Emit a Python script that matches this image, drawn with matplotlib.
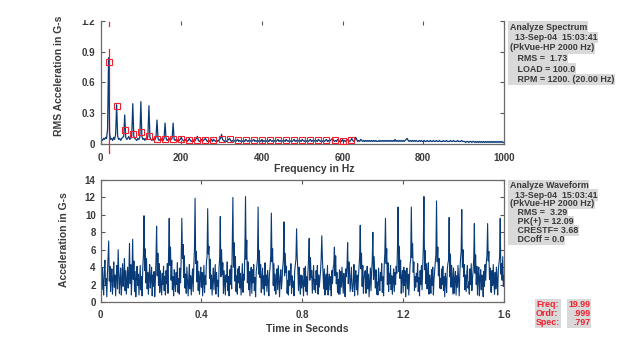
import matplotlib
matplotlib.use("Agg")
import matplotlib.pyplot as plt
import numpy as np
from matplotlib.patches import Rectangle

plt.rcParams["font.family"] = ["Liberation Sans Narrow", "Liberation Sans", "DejaVu Sans"]
plt.rcParams["font.weight"] = "bold"

BLUE = "#083b78"
RED = "#f0202e"
GREY = "#d9d9d9"
TXT = "#3a3a3a"

# spectrum, 2.5 Hz bins from 0 to 1000 Hz (RMS G-s)
spec_step_hz = 2.5
spectrum = [
    0.05, 0.04, 0.03, 0.05, 0.04, 0.06, 0.05, 0.14, 0.84, 0.10, 0.04, 0.05, 0.03, 0.06, 0.04, 0.09, 0.38, 0.07, 0.04, 0.05,
    0.03, 0.05, 0.06, 0.07, 0.28, 0.06, 0.04, 0.05, 0.07, 0.04, 0.05, 0.08, 0.39, 0.07, 0.05, 0.04, 0.03, 0.05, 0.04, 0.06,
    0.41, 0.07, 0.04, 0.05, 0.03, 0.05, 0.04, 0.07, 0.37, 0.06, 0.04, 0.03, 0.05, 0.03, 0.04, 0.06, 0.23, 0.05, 0.03, 0.04,
    0.03, 0.05, 0.03, 0.05, 0.20, 0.05, 0.03, 0.04, 0.05, 0.03, 0.04, 0.05, 0.20, 0.04, 0.03, 0.04, 0.02, 0.04, 0.03, 0.04,
    0.06, 0.04, 0.03, 0.02, 0.04, 0.03, 0.02, 0.03, 0.05, 0.03, 0.02, 0.03, 0.02, 0.04, 0.03, 0.05, 0.07, 0.03, 0.02, 0.03,
    0.04, 0.02, 0.03, 0.04, 0.05, 0.03, 0.02, 0.03, 0.02, 0.03, 0.04, 0.02, 0.04, 0.03, 0.02, 0.03, 0.02, 0.03, 0.04, 0.05,
    0.09, 0.04, 0.03, 0.02, 0.03, 0.02, 0.03, 0.04, 0.05, 0.03, 0.02, 0.03, 0.02, 0.03, 0.02, 0.03, 0.04, 0.02, 0.03, 0.02,
    0.03, 0.02, 0.03, 0.02, 0.04, 0.03, 0.02, 0.03, 0.02, 0.03, 0.02, 0.03, 0.04, 0.02, 0.03, 0.02, 0.03, 0.02, 0.03, 0.02,
    0.04, 0.02, 0.03, 0.02, 0.03, 0.02, 0.03, 0.02, 0.04, 0.03, 0.02, 0.03, 0.02, 0.03, 0.02, 0.03, 0.04, 0.02, 0.03, 0.02,
    0.03, 0.02, 0.03, 0.02, 0.04, 0.03, 0.02, 0.03, 0.02, 0.03, 0.02, 0.03, 0.04, 0.02, 0.03, 0.02, 0.03, 0.02, 0.03, 0.02,
    0.04, 0.03, 0.02, 0.03, 0.02, 0.03, 0.02, 0.03, 0.04, 0.02, 0.03, 0.02, 0.03, 0.02, 0.03, 0.02, 0.04, 0.03, 0.02, 0.03,
    0.02, 0.03, 0.02, 0.03, 0.04, 0.02, 0.03, 0.02, 0.03, 0.04, 0.05, 0.03, 0.02, 0.03, 0.02, 0.04, 0.03, 0.02, 0.03, 0.02,
    0.04, 0.02, 0.03, 0.02, 0.03, 0.04, 0.03, 0.02, 0.03, 0.05, 0.03, 0.02, 0.03, 0.06, 0.04, 0.02, 0.03, 0.02, 0.04, 0.03,
    0.02, 0.03, 0.02, 0.03, 0.02, 0.03, 0.02, 0.03, 0.02, 0.03, 0.02, 0.03, 0.02, 0.03, 0.02, 0.02, 0.03, 0.02, 0.03, 0.02,
    0.03, 0.02, 0.03, 0.02, 0.03, 0.02, 0.03, 0.02, 0.03, 0.02, 0.03, 0.02, 0.04, 0.02, 0.03, 0.02, 0.03, 0.02, 0.03, 0.02,
    0.03, 0.02, 0.03, 0.04, 0.05, 0.03, 0.02, 0.03, 0.02, 0.03, 0.02, 0.03, 0.02, 0.03, 0.02, 0.02, 0.03, 0.02, 0.03, 0.02,
    0.02, 0.03, 0.02, 0.02, 0.03, 0.02, 0.02, 0.03, 0.02, 0.02, 0.03, 0.02, 0.02, 0.03, 0.02, 0.02, 0.03, 0.02, 0.02, 0.02,
    0.03, 0.02, 0.02, 0.03, 0.02, 0.02, 0.02, 0.03, 0.02, 0.02, 0.03, 0.02, 0.02, 0.02, 0.03, 0.02, 0.02, 0.02, 0.03, 0.02,
    0.02, 0.02, 0.01, 0.02, 0.02, 0.01, 0.02, 0.02, 0.01, 0.02, 0.02, 0.01, 0.02, 0.01, 0.02, 0.01, 0.02, 0.01, 0.02, 0.01,
    0.02, 0.01, 0.02, 0.01, 0.02, 0.01, 0.02, 0.01, 0.02, 0.01, 0.02, 0.01, 0.02, 0.01, 0.02, 0.01, 0.02, 0.01, 0.02, 0.01,
    0.01,
]

# harmonic markers (multiples of running speed 20 Hz)
harm_freq = [20, 40, 60, 80, 100, 120, 140, 160, 180, 200, 220, 240, 260, 280, 300, 320,
             340, 360, 380, 400, 420, 440, 460, 480, 500, 520, 540, 560, 580, 600, 620]
harm_amp = [0.80, 0.37, 0.13, 0.09, 0.11, 0.07, 0.045, 0.04, 0.045, 0.045, 0.035, 0.03, 0.03, 0.03, 0.04, 0.04,
            0.035, 0.035, 0.03, 0.03, 0.03, 0.03, 0.035, 0.03, 0.03, 0.03, 0.03, 0.03, 0.035, 0.025, 0.03]
cursor_hz = 20

# waveform, 2.5 ms samples from 0 to 1.6 s (G-s)
wave_dt = 0.0025
waveform = [
    6.8, 3.0, 1.4, 3.9, 2.2, 0.8, 3.6, 4.8, 1.9, 2.7, 0.6, 3.3, 5.2, 7.0, 2.4, 4.1, 1.2, 2.9, 3.8, 0.9,
    2.5, 4.6, 1.7, 3.1, 0.7, 2.8, 4.2, 1.5, 6.0, 3.4, 1.0, 2.6, 3.9, 0.8, 2.3, 4.4, 1.8, 3.2, 5.0, 1.3,
    3.6, 0.9, 2.4, 4.0, 1.6, 3.3, 6.7, 2.1, 4.3, 0.8, 3.0, 7.2, 2.6, 4.7, 1.2, 3.5, 0.6, 2.7, 4.1, 1.9,
    3.2, 0.8, 2.5, 4.2, 1.4, 2.9, 0.7, 3.8, 5.3, 9.9, 3.6, 6.1, 2.2, 5.0, 1.5, 3.4, 0.9, 2.8, 4.3, 1.6,
    2.6, 4.0, 0.7, 3.1, 1.8, 3.5, 0.6, 2.4, 4.9, 8.7, 3.0, 5.6, 1.9, 4.4, 1.1, 3.6, 2.2, 0.8, 3.3, 2.0,
    4.1, 1.3, 2.9, 0.8, 3.6, 2.1, 4.4, 1.0, 5.8, 9.6, 4.2, 6.3, 2.5, 4.8, 1.4, 2.9, 0.7, 3.7, 2.3, 1.2,
    3.4, 2.0, 4.5, 1.1, 2.7, 0.9, 3.9, 2.2, 5.1, 9.6, 5.0, 6.6, 2.8, 5.3, 1.6, 3.2, 1.0, 4.0, 2.4, 0.7,
    2.9, 4.3, 1.5, 3.0, 0.8, 2.6, 3.8, 1.2, 4.1, 6.0, 11.9, 4.4, 5.8, 2.3, 4.7, 1.3, 3.5, 0.9, 2.8, 4.0,
    1.7, 3.4, 0.7, 2.5, 4.2, 1.1, 3.0, 2.0, 4.6, 5.2, 10.7, 5.5, 6.4, 2.7, 4.9, 1.5, 3.1, 0.8, 2.6, 3.9,
    1.4, 2.8, 4.3, 0.9, 3.4, 1.8, 2.5, 0.6, 3.9, 5.1, 9.8, 2.9, 6.0, 3.2, 4.5, 1.0, 3.6, 2.1, 0.8, 3.1,
    2.3, 4.6, 1.3, 2.9, 0.7, 3.7, 2.0, 4.2, 1.5, 6.5, 12.0, 4.0, 6.8, 2.4, 5.2, 1.2, 3.0, 0.9, 3.8, 2.2,
    4.1, 1.6, 3.3, 0.8, 2.7, 4.4, 1.1, 3.2, 2.5, 5.8, 12.1, 4.9, 7.1, 2.2, 4.6, 1.4, 3.5, 0.7, 2.9, 4.0,
    1.0, 3.7, 2.2, 4.3, 1.3, 2.8, 0.6, 3.5, 4.1, 5.0, 10.9, 3.2, 5.9, 2.8, 4.3, 1.1, 2.7, 3.9, 1.5, 3.0,
    0.8, 4.5, 1.9, 3.1, 1.2, 3.6, 2.4, 0.7, 3.3, 4.0, 5.3, 10.2, 4.6, 6.1, 1.9, 4.4, 1.3, 3.2, 0.9, 2.6,
    3.8, 1.4, 4.2, 2.3, 0.6, 2.9, 3.7, 1.5, 2.6, 3.9, 4.8, 9.2, 3.0, 5.6, 3.4, 4.1, 1.0, 2.5, 0.8, 3.6,
    1.9, 2.7, 4.4, 1.0, 3.0, 1.7, 2.4, 0.7, 3.5, 4.3, 4.9, 8.4, 5.2, 3.7, 1.3, 4.0, 2.2, 0.9, 3.1, 1.6,
    3.0, 2.2, 0.7, 3.9, 1.8, 4.1, 1.2, 2.9, 0.8, 3.4, 4.8, 7.3, 2.5, 5.1, 2.8, 3.6, 1.0, 2.7, 4.2, 1.4,
    2.6, 1.1, 3.6, 2.0, 4.2, 0.9, 3.1, 1.7, 2.6, 3.5, 5.0, 7.6, 4.9, 3.1, 1.5, 3.8, 0.8, 2.5, 3.2, 1.4,
    4.2, 0.8, 2.5, 3.2, 1.4, 2.9, 0.7, 3.6, 2.1, 3.9, 4.3, 6.3, 3.0, 5.3, 2.1, 3.4, 1.1, 2.6, 0.9, 3.7,
    0.9, 3.5, 1.7, 4.0, 2.6, 1.0, 3.3, 2.2, 0.6, 3.8, 2.9, 4.1, 6.8, 2.1, 4.6, 3.3, 1.2, 2.7, 4.0, 1.5,
    1.2, 2.4, 4.3, 0.7, 2.9, 3.6, 1.4, 3.1, 0.8, 2.7, 4.0, 5.2, 8.8, 3.8, 5.6, 1.8, 4.2, 1.0, 2.6, 3.4,
    3.6, 1.0, 2.7, 4.1, 1.5, 3.2, 0.6, 2.4, 3.9, 1.3, 3.5, 4.7, 8.0, 2.6, 5.2, 3.1, 1.6, 3.7, 0.9, 2.3,
    0.8, 3.9, 2.2, 1.3, 3.4, 2.5, 4.4, 1.1, 2.9, 0.7, 4.2, 5.6, 9.6, 4.4, 6.1, 2.0, 4.5, 1.2, 3.3, 2.1,
    4.2, 1.4, 3.0, 0.9, 2.5, 3.8, 1.2, 3.4, 2.0, 4.1, 3.3, 6.0, 10.9, 3.5, 6.4, 2.7, 4.8, 1.0, 2.8, 3.6,
    1.1, 4.0, 1.9, 3.6, 0.6, 2.7, 3.9, 1.5, 3.2, 0.8, 2.6, 4.3, 4.9, 10.9, 5.1, 6.7, 3.4, 4.6, 1.3, 2.9,
    1.7, 3.3, 2.3, 4.4, 1.2, 2.8, 0.7, 3.6, 2.0, 4.2, 1.4, 3.9, 6.3, 12.1, 3.7, 5.9, 2.1, 4.4, 1.5, 3.2,
    4.5, 0.9, 3.1, 2.4, 1.0, 3.7, 1.9, 4.0, 0.8, 2.6, 3.5, 4.6, 5.5, 11.6, 4.6, 6.3, 3.0, 5.0, 1.6, 2.7,
    1.5, 3.8, 2.0, 4.1, 1.3, 2.9, 0.6, 3.3, 2.4, 1.1, 3.7, 4.4, 4.8, 9.7, 2.9, 5.5, 1.7, 4.2, 2.6, 0.9,
    3.9, 1.0, 2.6, 3.5, 0.8, 3.0, 1.7, 4.2, 2.3, 0.7, 3.4, 4.9, 5.8, 10.6, 4.0, 6.0, 2.9, 4.3, 1.4, 3.1,
    1.2, 3.4, 4.2, 1.6, 2.3, 0.9, 3.8, 2.0, 4.4, 1.3, 2.7, 3.6, 5.0, 9.0, 3.3, 5.4, 2.0, 4.1, 0.8, 2.9,
    4.0, 0.7, 2.8, 3.7, 1.4, 3.1, 2.2, 0.6, 3.5, 1.8, 4.3, 2.5, 4.6, 5.4, 9.0, 4.7, 5.8, 2.6, 3.9, 1.2,
    1.1, 3.6, 1.9, 4.3, 2.2, 0.9, 3.4, 1.5, 4.0, 2.6, 0.8, 3.7, 4.4, 5.1, 9.6, 3.2, 4.4, 2.5, 5.2, 1.8,
    3.0,
]

spec_lines = ["Analyze Spectrum", "  13-Sep-04  15:03:41", "(PkVue-HP 2000 Hz)",
              "   RMS =  1.73", "   LOAD = 100.0", "   RPM = 1200. (20.00 Hz)"]
wave_lines = ["Analyze Waveform", "  13-Sep-04  15:03:41", "(PkVue-HP 2000 Hz)",
              "   RMS =  3.29", "   PK(+) = 12.09", "   CRESTF= 3.68", "   DCoff = 0.0"]
cursor_keys = ["Freq:", "Ordr:", "Spec:"]
cursor_vals = ["19.99", ".999", ".797"]

W, H = 640, 352


def fpos(x, y):
    return x / W, 1 - y / H


def style_axes(ax):
    for s in ax.spines.values():
        s.set_color("#6a6a6a")
        s.set_linewidth(0.9)
    ax.tick_params(direction="in", length=3, width=0.8, color="#555555",
                   top=True, right=True, labelsize=7, labelcolor=TXT)


def info_block(x, ys, lines):
    # grey strip behind every line first, then the text, so strips never cover letters
    box = dict(boxstyle="square,pad=0.12", fc=GREY, ec="none")
    for y, line in zip(ys, lines):
        fig.text(*fpos(x, y), line, fontsize=6.4, color=GREY, va="center", bbox=box, zorder=1)
    for y, line in zip(ys, lines):
        fig.text(*fpos(x, y), line, fontsize=6.4, color=TXT, va="center", zorder=2)


fig = plt.figure(figsize=(6.4, 3.52), dpi=100)
ax1 = fig.add_axes([100.5 / W, 1 - 143.5 / H, 403.5 / W, 122.5 / H])
ax2 = fig.add_axes([100.5 / W, 1 - 302 / H, 403.5 / W, 122 / H])

# spectrum panel
freq = np.arange(len(spectrum)) * spec_step_hz
ax1.plot([cursor_hz, cursor_hz], [-0.09, 0.93], color=RED, lw=0.9, clip_on=False, zorder=1)
ax1.plot([cursor_hz, cursor_hz], [1.15, 1.19], color=RED, lw=0.9, clip_on=False, zorder=1)
ax1.plot(freq, spectrum, color=BLUE, lw=0.9, zorder=2)
ax1.plot(harm_freq, harm_amp, "s", mfc="none", mec=RED, ms=3.8, mew=0.8, zorder=3)
ax1.set_xlim(0, 1000)
ax1.set_ylim(0, 1.2)
ax1.set_xticks([0, 200, 400, 600, 800, 1000])
ax1.set_yticks([0, 0.3, 0.6, 0.9, 1.2])
ax1.set_yticklabels(["0", "0.3", "0.6", "0.9", "1.2"])
ax1.spines["top"].set_visible(False)
style_axes(ax1)
ax1.tick_params(axis="x", pad=6.5)
ax1.tick_params(axis="y", pad=4)
ax1.set_xlabel("Frequency in Hz", fontsize=7.5, color=TXT, fontweight="bold")
ax1.set_ylabel("RMS Acceleration in G-s", fontsize=7.5, color=TXT, fontweight="bold")
ax1.xaxis.set_label_coords(0.53, -0.17)
ax1.yaxis.set_label_coords(-0.09, 0.55)

# waveform panel
t = np.arange(len(waveform)) * wave_dt
ax2.plot(t, waveform, color=BLUE, lw=0.8)
ax2.set_xlim(0, 1.6)
ax2.set_ylim(0, 14)
ax2.set_xticks([0, 0.4, 0.8, 1.2, 1.6])
ax2.set_xticklabels(["0", "0.4", "0.8", "1.2", "1.6"])
ax2.set_yticks(range(0, 15, 2))
style_axes(ax2)
ax2.tick_params(axis="x", pad=6)
ax2.tick_params(axis="y", pad=3.5)
ax2.set_xlabel("Time in Seconds", fontsize=7.5, color=TXT, fontweight="bold")
ax2.set_ylabel("Acceleration in G-s", fontsize=7.5, color=TXT, fontweight="bold")
ax2.xaxis.set_label_coords(0.513, -0.18)
ax2.yaxis.set_label_coords(-0.077, 0.51)

# info panels on the right
info_block(509.5, [27, 37.5, 48, 58.5, 69, 79.5], spec_lines)
info_block(509.5, [186, 195, 203.8, 212.7, 221.5, 230.4, 239.3], wave_lines)

rbox = dict(boxstyle="square,pad=0.12", fc=GREY, ec="none")
fig.text(*fpos(536, 313.5), "\n".join(cursor_keys), fontsize=6.4, color=RED, va="center",
         linespacing=1.0, bbox=rbox)
fig.text(*fpos(590, 313.5), "\n".join(cursor_vals), fontsize=6.4, color=RED, va="center",
         ha="right", multialignment="right", linespacing=1.0, bbox=rbox)

# the top of the "1.2" label is cut off in the original
fig.add_artist(Rectangle((78 / W, 1 - 19.5 / H), 20 / W, 19.5 / H, transform=fig.transFigure,
                         fc="white", ec="none", zorder=10))

fig.savefig("out.png", dpi=100)
